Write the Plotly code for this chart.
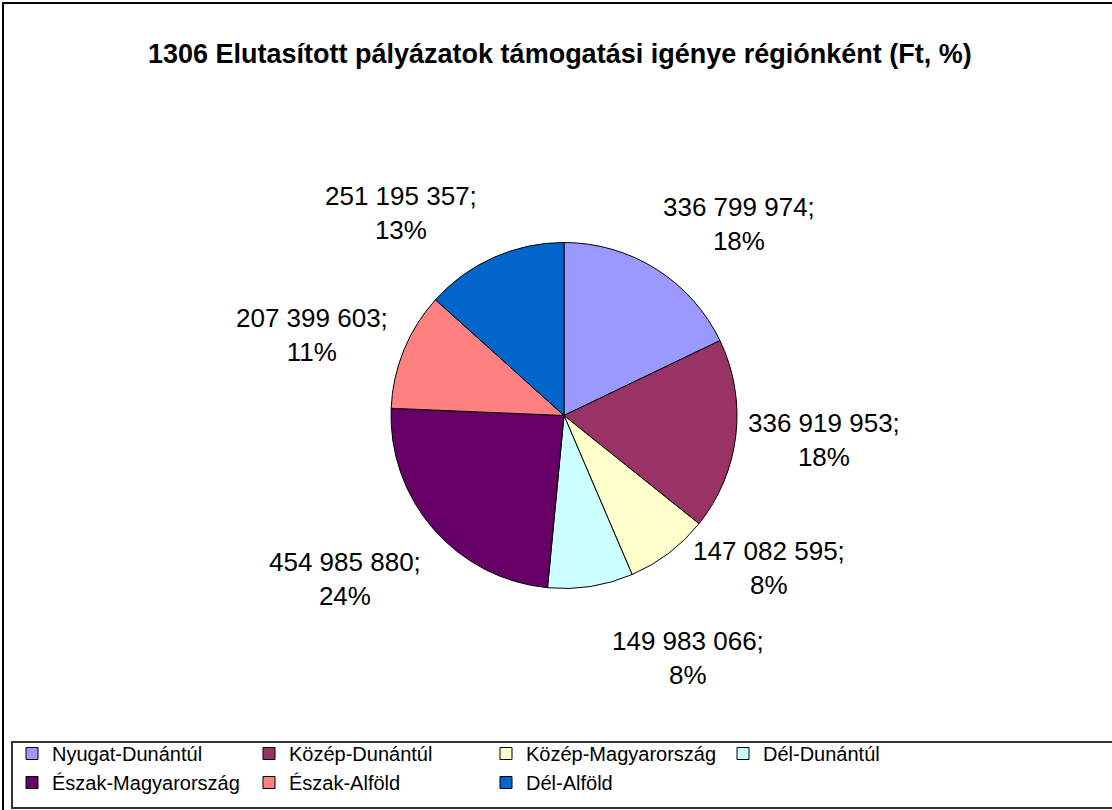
import math
import plotly.graph_objects as go

# ---- data ----
regions = ["Nyugat-Dunántúl", "Közép-Dunántúl", "Közép-Magyarország", "Dél-Dunántúl",
           "Észak-Magyarország", "Észak-Alföld", "Dél-Alföld"]
amounts = [336799974, 336919953, 147082595, 149983066, 454985880, 207399603, 251195357]
colors = ["#9999FF", "#993366", "#FFFFCC", "#CCFFFF", "#660066", "#FF8080", "#0066CC"]
title_text = "1306 Elutasított pályázatok támogatási igénye régiónként (Ft, %)"

# ---- layout constants (pixels) ----
W, H = 1112, 810
CX, CY, R = 564, 415.5, 173
FONT = "Liberation Sans, Arial, sans-serif"

def px_x(x):
    return x / W

def px_y(y):
    return 1 - y / H

fig = go.Figure(go.Pie(
    labels=regions, values=amounts, sort=False, direction="clockwise", rotation=0,
    marker=dict(colors=colors, line=dict(color="black", width=1)),
    textinfo="none", hoverinfo="label+value+percent",
    domain=dict(x=[px_x(CX - R), px_x(CX + R)], y=[px_y(CY + R), px_y(CY - R)]),
))

# data labels placed by slice mid-angle
total = sum(amounts)
nudges = [(-9, 12), (-17, 2), (6, -41), (15, 11), (10, -2), (11, -5), (-4, 14)]
R0 = 200
cum = 0
annotations = []
for i, v in enumerate(amounts):
    mid = (cum + v / 2) / total * 2 * math.pi
    cum += v
    s, c = math.sin(mid), math.cos(mid)
    ax = CX + R0 * s
    ay = CY - R0 * c
    xanchor = "left" if s > 0 else "right"
    if c > 0.4:
        yanchor = "bottom"
    elif c < -0.4:
        yanchor = "top"
    else:
        yanchor = "middle"
    pct = round(v / total * 100)
    txt = f"{v:,}".replace(",", " ") + ";<br>" + f"{pct}%"
    dx, dy = nudges[i]
    annotations.append(dict(
        x=px_x(ax), y=px_y(ay), xref="paper", yref="paper", text=txt, showarrow=False,
        xanchor=xanchor, yanchor=yanchor, align="center",
        xshift=dx, yshift=-dy, font=dict(family=FONT, size=26, color="black"),
    ))

annotations.append(dict(
    x=px_x(560), y=px_y(54), xref="paper", yref="paper", text=f"<b>{title_text}</b>",
    showarrow=False, xanchor="center", yanchor="middle",
    font=dict(family=FONT, size=27, color="black"),
))

shapes = [
    dict(type="rect", xref="paper", yref="paper", x0=px_x(3), x1=px_x(W + 10),
         y0=px_y(H + 10), y1=px_y(3), line=dict(color="black", width=2), fillcolor="rgba(0,0,0,0)"),
    dict(type="rect", xref="paper", yref="paper", x0=px_x(12), x1=px_x(W + 10),
         y0=px_y(808), y1=px_y(742), line=dict(color="#333333", width=2), fillcolor="white"),
]

fig.update_layout(
    width=W, height=H, margin=dict(l=0, r=0, t=0, b=0),
    paper_bgcolor="white", plot_bgcolor="white",
    annotations=annotations, shapes=shapes,
    showlegend=True,
    legend=dict(orientation="h", x=px_x(12), y=px_y(734), xanchor="left", yanchor="top",
                entrywidth=192, entrywidthmode="pixels", traceorder="normal",
                font=dict(family=FONT, size=20, color="black"),
                bgcolor="rgba(0,0,0,0)", borderwidth=0, tracegroupgap=0),
    font=dict(family=FONT),
)

fig.write_html("out.html", config={"displayModeBar": False},
               post_script="document.body.style.margin='0';document.body.style.overflow='hidden';")
